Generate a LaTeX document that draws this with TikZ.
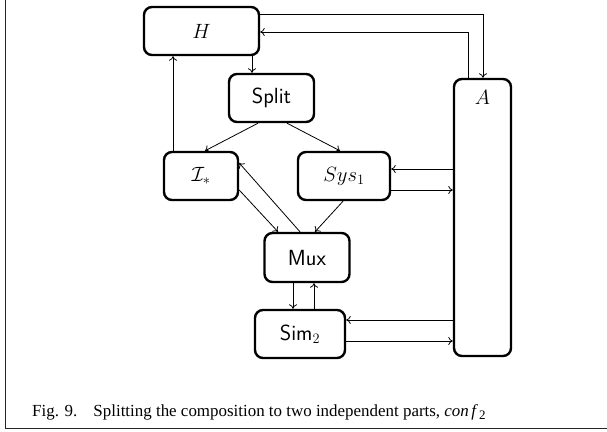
\documentclass[tikz,border=0pt]{standalone}
\usepackage{fontspec}
\newfontfamily\capfont{Liberation Serif}
\usetikzlibrary{arrows.meta}
\begin{document}
\begin{tikzpicture}[x=1bp,y=-1bp,
  blk/.style={draw, line width=2.4bp, rounded corners=8bp, inner sep=0pt, font=\fontsize{22}{26}\selectfont},
  arr/.style={line width=0.8bp, -{To[length=4.5bp,width=8bp]}}]
\useasboundingbox (0,0) rectangle (607,431);
\draw[line width=1bp, black!85] (5,0) -- (5,428) -- (607,428);
\node[blk, minimum width=115bp, minimum height=48bp] (H) at (201.5,31) {$H$\hspace{38bp}};
\node[blk, minimum width=85bp, minimum height=48bp, font=\fontsize{22}{26}\selectfont\sffamily] (Split) at (271.5,98) {Split};
\node[blk, minimum width=57bp, minimum height=277bp,
  label={[anchor=north, yshift=-9bp, font=\fontsize{22}{26}\selectfont]north:$A$}] (A) at (482.5,217.5) {};
\node[blk, minimum width=74bp, minimum height=48bp] (I) at (201,176) {$\mathcal{I}_*$};
\node[blk, minimum width=92bp, minimum height=48bp] (Sys) at (344,176) {$Sys_1$};
\node[blk, minimum width=85bp, minimum height=49bp, font=\fontsize{22}{26}\selectfont\sffamily] (Mux) at (307,257.5) {Mux};
\node[blk, minimum width=90bp, minimum height=48bp, font=\fontsize{22}{26}\selectfont\sffamily] (Sim) at (300,334) {Sim$_2$};
\draw[arr] (H.east |- 0,14) -| (A.north -| 483,0);
\draw[arr] (A.north -| 468,0) |- (H.east |- 0,32);
\draw[arr] (H.south -| 252,0) -- (Split.north -| 252,0);
\draw[arr] (I.north -| 173,0) -- (H.south -| 173,0);
\draw[arr] (Split.south -| 258,0) -- (I.north -| 205,0);
\draw[arr] (Split.south -| 287,0) -- (Sys.north -| 340,0);
\draw[arr] (A.west |- 0,169) -- (Sys.east |- 0,169);
\draw[arr] (Sys.east |- 0,190) -- (A.west |- 0,190);
\draw[arr] (Sys.south -| 343,0) -- (Mux.north -| 315,0);
\draw[arr] (I.east |- 0,190) -- (Mux.north -| 278,0);
\draw[arr] (Mux.north -| 300,0) -- (I.east |- 0,163);
\draw[arr] (Mux.south -| 293,0) -- (Sim.north -| 293,0);
\draw[arr] (Sim.north -| 314,0) -- (Mux.south -| 314,0);
\draw[arr] (A.west |- 0,320) -- (Sim.east |- 0,320);
\draw[arr] (Sim.east |- 0,341) -- (A.west |- 0,341);
\node[anchor=base west, inner sep=0pt, font=\capfont\fontsize{17}{20}\selectfont] (cap) at (32,416)
  {Fig. 9.\hspace{0.95em}Splitting the composition to two independent parts, \textit{con\kern2.5bp f}\kern1bp\raisebox{-3bp}{\fontsize{13}{15}\selectfont 2}};
\end{tikzpicture}
\end{document}
